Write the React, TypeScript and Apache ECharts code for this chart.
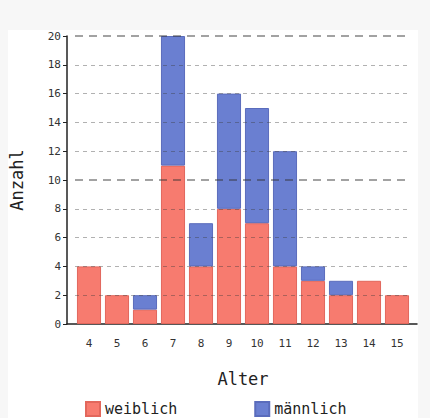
import React, { useEffect, useRef } from "react";
import * as echarts from "echarts";

const categories = ["4", "5", "6", "7", "8", "9", "10", "11", "12", "13", "14", "15"];
const weiblich = [4, 2, 1, 11, 4, 8, 7, 4, 3, 2, 3, 2];
const maennlich = [0, 0, 1, 9, 3, 8, 8, 8, 1, 1, 0, 0];

const RED = "#f77b6f";
const BLUE = "#6a7fd1";
const FONT = "DejaVu Sans Mono";

const noZero = (arr: number[]) => arr.map((v) => (v === 0 ? null : v));

export default function App() {
  const ref = useRef<HTMLDivElement>(null);
  useEffect(() => {
    if (!ref.current) return;
    const chart = echarts.init(ref.current, null, { renderer: "svg" });
    const minor = "rgba(60,60,60,0.4)";
    const major = "rgba(50,50,50,0.6)";
    chart.setOption({
      animation: false,
      backgroundColor: "#f7f7f7",
      graphic: [
        { type: "rect", left: 8, top: 30, shape: { width: 410, height: 388 }, style: { fill: "#ffffff" }, z: -10 },
      ],
      grid: [
        { left: 67, right: 13, top: 36, bottom: 94 },
        { left: 75, right: 19, top: 36, bottom: 94 },
      ],
      legend: {
        left: 80,
        top: 396,
        icon: "rect",
        itemWidth: 14,
        itemHeight: 14,
        itemGap: 77,
        textStyle: { fontFamily: FONT, fontSize: 15, color: "#222" },
        data: ["weiblich", "männlich"],
      },
      xAxis: [
        {
          gridIndex: 0,
          type: "value",
          min: 0,
          max: 1,
          axisLine: { show: true, lineStyle: { color: "#222", width: 1.5 } },
          axisTick: { show: false },
          axisLabel: { show: false },
          splitLine: { show: false },
        },
        {
          gridIndex: 1,
          type: "category",
          data: categories,
          axisLine: { show: false },
          axisTick: { show: false },
          axisLabel: { fontFamily: FONT, fontSize: 11, color: "#333", margin: 14 },
          name: "Alter",
          nameLocation: "middle",
          nameGap: 46,
          nameTextStyle: { fontFamily: FONT, fontSize: 17, color: "#222" },
        },
      ],
      yAxis: [
        {
          gridIndex: 0,
          type: "value",
          min: 0,
          max: 20,
          interval: 2,
          axisLine: { show: true, lineStyle: { color: "#222", width: 1.5 } },
          axisTick: { show: true, length: 4, lineStyle: { color: "#222" } },
          axisLabel: { fontFamily: FONT, fontSize: 11, color: "#333", margin: 6 },
          splitLine: { show: false },
          name: "Anzahl",
          nameLocation: "middle",
          nameGap: 42,
          nameTextStyle: { fontFamily: FONT, fontSize: 17, color: "#222" },
        },
        {
          gridIndex: 1,
          type: "value",
          min: 0,
          max: 20,
          interval: 2,
          z: 5,
          axisLine: { show: false },
          axisTick: { show: false },
          axisLabel: { show: false },
          splitLine: {
            show: true,
            lineStyle: { color: ["rgba(0,0,0,0)", minor, minor, minor, minor], type: [4, 4], width: 1.2 },
          },
        },
        {
          gridIndex: 1,
          type: "value",
          min: 0,
          max: 20,
          interval: 10,
          z: 6,
          axisLine: { show: false },
          axisTick: { show: false },
          axisLabel: { show: false },
          splitLine: {
            show: true,
            lineStyle: { color: ["rgba(0,0,0,0)", major, major], type: [8, 6], width: 1.5 },
          },
        },
      ],
      series: [
        {
          name: "weiblich",
          type: "bar",
          stack: "total",
          xAxisIndex: 1,
          yAxisIndex: 1,
          data: noZero(weiblich),
          barCategoryGap: "14%",
          itemStyle: { color: RED, borderColor: "#e2675c", borderWidth: 1 },
        },
        {
          name: "männlich",
          type: "bar",
          stack: "total",
          xAxisIndex: 1,
          yAxisIndex: 1,
          data: noZero(maennlich),
          barCategoryGap: "14%",
          itemStyle: { color: BLUE, borderColor: "#5a6cbc", borderWidth: 1 },
        },
      ],
    });
    return () => chart.dispose();
  }, []);
  return (
    <div
      ref={ref}
      style={{ position: "fixed", left: 0, top: 0, width: 430, height: 418 }}
    />
  );
}
